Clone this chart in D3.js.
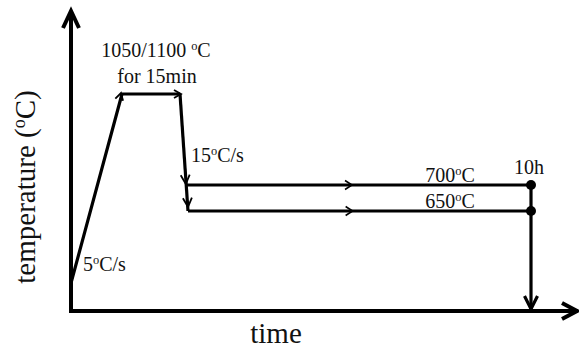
<!DOCTYPE html>
<html>
<head>
<meta charset="utf-8">
<script src="https://cdn.jsdelivr.net/npm/d3@7"></script>
<style>
  html, body { margin: 0; padding: 0; background: #fff; }
  svg { display: block; }
  text { font-family: "Liberation Serif", "DejaVu Serif", serif; fill: #111; }
</style>
</head>
<body>
<svg id="chart" width="579" height="348"></svg>
<script>
// Heat-treatment schedule: time in seconds, temperature in °C
const profileTime = [0, 205, 1105];          // heat at 5 °C/s, hold 15 min
const profileTemp = [25, 1050, 1050];
const quenchTime = [1105, 1132];             // cool at 15 °C/s
const quenchTemp = [1050, 650];
const agingTemps = [700, 650];
const agingStart = [1128, 1132];
const agingEnd = 37132;                      // 10 h of aging
const agingLabels = ["700", "650"];

// Schematic (piecewise) scales
const x = d3.scaleLinear()
  .domain([0, 205, 1105, 1132, 37132])
  .range([71, 122, 180, 188, 531]);
const y = d3.scaleLinear()
  .domain([0, 25, 650, 700, 1050])
  .range([311, 283, 211, 185, 94]);

const svg = d3.select("#chart");
const ink = "#000";

// open chevron arrowhead with its tip at (tx, ty), pointing along (dx, dy)
function chevron(g, tx, ty, dx, dy, len, half, width) {
  const m = Math.hypot(dx, dy), ux = dx / m, uy = dy / m;
  const nx = -uy, ny = ux;
  const bx = tx - ux * len, by = ty - uy * len;
  g.append("path")
    .attr("d", `M${bx + nx * half},${by + ny * half}L${tx},${ty}L${bx - nx * half},${by - ny * half}`)
    .attr("fill", "none").attr("stroke", ink)
    .attr("stroke-width", width).attr("stroke-linejoin", "miter")
    .attr("stroke-linecap", "butt");
}

const gAxes = svg.append("g");
const x0 = x(0), y0 = y(0);
// axes
gAxes.append("line").attr("x1", x0).attr("y1", y0 + 2).attr("x2", x0).attr("y2", 12)
  .attr("stroke", ink).attr("stroke-width", 4);
gAxes.append("line").attr("x1", x0 - 2).attr("y1", y0).attr("x2", 578).attr("y2", y0)
  .attr("stroke", ink).attr("stroke-width", 4);
chevron(gAxes, x0, 11, 0, -1, 17, 8, 4);
chevron(gAxes, 577, y0, 1, 0, 15, 8, 4);

// temperature profile
const line = d3.line().x(d => x(d[0])).y(d => y(d[1]));
const gP = svg.append("g");
const heat = profileTime.map((t, i) => [t, profileTemp[i]]);
gP.append("path").attr("d", line(heat))
  .attr("fill", "none").attr("stroke", ink).attr("stroke-width", 3.2)
  .attr("stroke-linejoin", "round");
const quench = quenchTime.map((t, i) => [t, quenchTemp[i]]);
gP.append("path").attr("d", line(quench))
  .attr("fill", "none").attr("stroke", ink).attr("stroke-width", 3.2);

// direction arrows on heating / hold / quench
chevron(gP, x(profileTime[1]) - 1, y(profileTemp[1]) - 1,
  x(profileTime[1]) - x(profileTime[0]), y(profileTemp[1]) - y(profileTemp[0]), 7, 4, 1.8);
chevron(gP, x(profileTime[2]) + 1, y(profileTemp[2]), 1, 0, 7, 4, 1.8);
const qdx = x(quenchTime[1]) - x(quenchTime[0]), qdy = y(quenchTemp[1]) - y(quenchTemp[0]);
agingTemps.forEach((T, i) => {
  const tx = x(agingStart[i]) - (i === 0 ? 1 : 0);
  const ty = y(T) - (i === 0 ? 1 : 4);
  chevron(gP, tx, ty, qdx, qdy, 9, 4.5, 1.8);
});

// aging holds
agingTemps.forEach((T, i) => {
  const xs = x(agingStart[i]), xe = x(agingEnd);
  gP.append("line").attr("x1", xs).attr("x2", xe).attr("y1", y(T)).attr("y2", y(T))
    .attr("stroke", ink).attr("stroke-width", 3.2);
  chevron(gP, xs + (xe - xs) * 0.48, y(T), 1, 0, 7, 4.5, 1.6);
  gP.append("circle").attr("cx", xe).attr("cy", y(T)).attr("r", 5).attr("fill", ink);
});

// drop back to room temperature
gP.append("line").attr("x1", x(agingEnd)).attr("x2", x(agingEnd))
  .attr("y1", y(agingTemps[0])).attr("y2", y0 - 2)
  .attr("stroke", ink).attr("stroke-width", 3.2);
chevron(gP, x(agingEnd), y0 - 2, 0, 1, 13, 6.5, 3.2);

// labels
const gT = svg.append("g");
function degLabel(px, py, pre, post, size, anchor) {
  const t = gT.append("text").attr("x", px).attr("y", py)
    .attr("font-size", size).attr("text-anchor", anchor || "start");
  t.append("tspan").text(pre);
  t.append("tspan").attr("font-size", size * 0.62).attr("dy", -size * 0.36).text("o");
  t.append("tspan").attr("dy", size * 0.36).text(post);
  return t;
}
degLabel(156, 57, "1050/1100 ", "C", 20, "middle");
gT.append("text").attr("x", 157).attr("y", 83).attr("font-size", 20)
  .attr("text-anchor", "middle").text("for 15min");
degLabel(191, 162, "15", "C/s", 20);
degLabel(83, 271, "5", "C/s", 20);
agingTemps.forEach((T, i) => {
  degLabel(450, y(T) - 3, agingLabels[i], "C", 20, "middle");
});
gT.append("text").attr("x", 529).attr("y", 174).attr("font-size", 20)
  .attr("text-anchor", "middle").text("10h");

gT.append("text").attr("x", 276).attr("y", 343).attr("font-size", 29)
  .attr("text-anchor", "middle").text("time");
const yl = degLabel(0, 0, "temperature (", "C)", 29, "middle");
yl.attr("transform", "translate(35,187) rotate(-90)");
</script>
</body>
</html>
